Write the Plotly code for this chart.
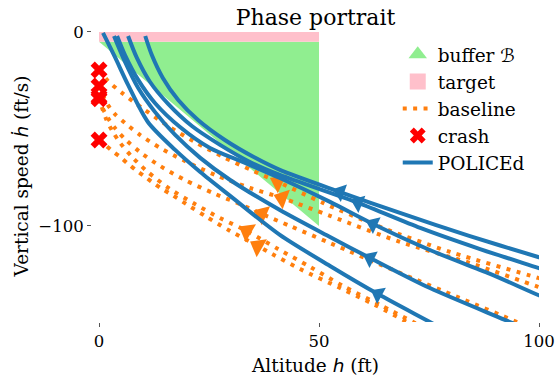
import plotly.graph_objects as go

# ---------------- data ----------------
# buffer polygon and target set (altitude h [ft], vertical speed v [ft/s])
buffer_h = [0, 50, 50]
buffer_v = [-5, -5, -100]
target_h = [0, 50, 50, 0]
target_v = [0, 0, -5, -5]

# POLICEd trajectories
polA_h = [0.9, 3.6, 6.6, 11.1, 17.3, 23.0, 29.8, 41.1, 52.5, 63.4, 75.2, 79.8]
polA_v = [-0.5, -12.9, -27.3, -46.4, -60.8, -72.2, -84.5, -104.6, -120.6, -135.1, -149.5, -155.2]
polB_h = [3.4, 5.7, 8.9, 12.7, 17.3, 23.0, 29.8, 41.1, 52.5, 61.6, 75.2, 93.4, 98.0]
polB_v = [-2.1, -14.4, -28.9, -41.2, -53.1, -64.9, -76.3, -91.8, -105.7, -116.5, -132.0, -149.5, -154.1]
polC_h = [4.1, 5.9, 8.9, 12.7, 18.4, 25.2, 33.2, 41.1, 52.5, 62.3, 75.2, 88.9, 99.8, 104.8]
polC_v = [-2.1, -11.9, -24.7, -36.6, -49.0, -59.8, -67.5, -75.3, -87.6, -99.0, -112.4, -124.7, -135.6, -140.2]
polD_h = [6.6, 8.6, 11.6, 15.7, 21.1, 27.5, 34.3, 41.1, 58.9, 73.0, 86.6, 99.8, 104.8]
polD_v = [-2.1, -13.4, -25.8, -37.1, -48.5, -58.2, -67.0, -73.7, -88.1, -101.0, -111.9, -121.6, -125.3]
polE_h = [10.5, 12.0, 14.5, 18.0, 22.5, 28.6, 35.5, 41.1, 54.8, 68.4, 84.3, 99.8, 104.8]
polE_v = [-2.1, -11.9, -23.7, -35.1, -45.4, -55.7, -64.9, -71.1, -82.5, -93.3, -105.2, -116.0, -119.1]

# baseline trajectories (first point = crash at h = 0)
base1_h = [0, 2.05, 5.2, 9.8, 15.7, 21.8, 28.2, 35.0, 40.7, 50.9, 63.9, 79.8, 99.8, 104.8]
base1_v = [-19.6, -25.3, -31.4, -39.2, -48.5, -56.7, -64.4, -71.6, -77.3, -88.1, -100.5, -113.4, -126.8, -130.4]
base2_h = [0, 0.9, 2.0, 3.6, 5.9, 9.3, 13.9, 19.5, 26.4, 34.3, 41.6, 52.5, 68.4, 84.3, 99.8, 104.8]
base2_v = [-27.8, -33.0, -37.6, -42.3, -46.9, -53.1, -59.8, -66.5, -73.7, -80.4, -85.6, -94.8, -108.2, -119.1, -131.4, -135.6]
base3_h = [0, 0.9, 2.0, 3.6, 5.9, 9.3, 13.9, 19.5, 26.4, 32.0, 37.0, 43.4, 52.5, 68.4, 82.0, 95.0, 100.2]
base3_v = [-34.5, -39.7, -44.3, -49.5, -55.2, -61.9, -69.1, -76.3, -83.5, -88.7, -93.8, -100.0, -108.8, -124.2, -137.1, -149.5, -154.6]
base4_h = [0, 0.7, 1.6, 3.0, 4.8, 7.5, 11.1, 16.1, 21.8, 27.5, 33.6, 40.7, 48.0, 55.5, 63.9, 71.4, 76.4]
base4_v = [-33.5, -39.2, -44.8, -51.0, -57.2, -64.4, -72.2, -80.9, -88.7, -95.9, -102.6, -111.9, -121.1, -131.0, -140.7, -149.5, -155.2]
base5_h = [0, 1.4, 2.95, 4.8, 6.6, 8.6, 10.5, 12.3, 14.3, 16.6, 20.5, 24.5, 29.8, 36.1, 39.3, 45.7, 54.8, 62.7, 70.0, 75.2]
base5_v = [-55.7, -58.2, -61.3, -64.4, -68.0, -71.6, -74.7, -77.8, -80.9, -84.0, -89.7, -95.4, -102.6, -110.3, -114.4, -122.2, -132.0, -140.7, -149.5, -155.7]

# index of the point on each trajectory carrying a direction arrow
pol_arrow_idx = [9, 9, 9, 8, 8]
base_arrow_idx = [8, 10, 10, 10, 13]

x_ticks = [0, 50, 100]
y_ticks = [0, -100]

# ---------------- styling ----------------
BLUE = "#1f77b4"
ORANGE = "#ff7f0e"
GREEN = "#90ee90"
PINK = "#ffc0cb"
FONT = "DejaVu Serif"
MATH = "<span style='font-family:DejaVu Sans'><i>{}</i></span>"
DOT = "4px,6.4px"

fig = go.Figure()

fig.add_trace(go.Scatter(x=buffer_h, y=buffer_v, fill="toself", fillcolor=GREEN,
                         mode="none", showlegend=False, hoverinfo="skip"))
fig.add_trace(go.Scatter(x=target_h, y=target_v, fill="toself", fillcolor=PINK,
                         mode="none", showlegend=False, hoverinfo="skip"))

policed = [(polA_h, polA_v), (polB_h, polB_v), (polC_h, polC_v), (polD_h, polD_v), (polE_h, polE_v)]
baseline = [(base1_h, base1_v), (base2_h, base2_v), (base3_h, base3_v), (base4_h, base4_v), (base5_h, base5_v)]


def arrow_trace(h, v, k, color, size):
    # arrow at point k, oriented from point k+1 towards point k (direction of motion)
    ph = h[k] + 0.15 * (h[k + 1] - h[k])
    pv = v[k] + 0.15 * (v[k + 1] - v[k])
    return go.Scatter(x=[ph, h[k]], y=[pv, v[k]], mode="markers", showlegend=False,
                      hoverinfo="skip", opacity=1,
                      marker=dict(symbol="triangle-up", size=[0, size], color=color, opacity=1,
                                  angleref="previous", angle=0, line=dict(width=0)))


for h, v in baseline:
    fig.add_trace(go.Scatter(x=h, y=v, mode="lines", showlegend=False, hoverinfo="skip",
                             line=dict(color=ORANGE, width=4, dash=DOT, shape="spline", smoothing=0.8)))
for (h, v), k in zip(baseline, base_arrow_idx):
    fig.add_trace(arrow_trace(h, v, k, ORANGE, 18))

crash_h = [b[0][0] for b in baseline]
crash_v = [b[1][0] for b in baseline]
fig.add_trace(go.Scatter(x=crash_h, y=crash_v, mode="markers", showlegend=False,
                         cliponaxis=False, hoverinfo="skip",
                         marker=dict(symbol="x", size=15, color="red", line=dict(width=0))))

for h, v in policed:
    fig.add_trace(go.Scatter(x=h, y=v, mode="lines", showlegend=False, hoverinfo="skip",
                             line=dict(color=BLUE, width=4, shape="spline", smoothing=0.8)))
for (h, v), k in zip(policed, pol_arrow_idx):
    fig.add_trace(arrow_trace(h, v, k, BLUE, 16))

# legend entries
fig.add_trace(go.Scatter(x=[None], y=[None], mode="markers", name="buffer " + MATH.format("ℬ"),
                         marker=dict(symbol="triangle-up", size=16, color=GREEN)))
fig.add_trace(go.Scatter(x=[None], y=[None], mode="markers", name="target",
                         marker=dict(symbol="square", size=16, color=PINK)))
fig.add_trace(go.Scatter(x=[None], y=[None], mode="lines", name="baseline",
                         line=dict(color=ORANGE, width=4, dash=DOT)))
fig.add_trace(go.Scatter(x=[None], y=[None], mode="markers", name="crash",
                         marker=dict(symbol="x", size=14, color="red", line=dict(width=0))))
fig.add_trace(go.Scatter(x=[None], y=[None], mode="lines", name="POLICEd",
                         line=dict(color=BLUE, width=4)))

axis_common = dict(showgrid=False, zeroline=False, showline=False, ticks="outside",
                   automargin=False, ticklen=4, tickwidth=1, tickcolor="#555",
                   tickfont=dict(size=16.5, color="black", family=FONT))

fig.update_layout(
    width=556, height=383,
    margin=dict(l=92, r=17, t=30, b=61, autoexpand=False),
    paper_bgcolor="white", plot_bgcolor="white",
    font=dict(family=FONT, color="black"),
    title=dict(text="Phase portrait", x=0.5, xref="paper", xanchor="center",
               y=1 - 17 / 383, yref="container", yanchor="middle",
               font=dict(size=22, family=FONT, color="black")),
    xaxis=dict(range=[-1.6, 100], tickvals=x_ticks,
               title=dict(text="Altitude " + MATH.format("h") + " (ft)",
                          font=dict(size=18.5, family=FONT), standoff=9),
               **axis_common),
    yaxis=dict(range=[-149.5, 1.0], tickvals=y_ticks,
               title=dict(text="Vertical speed " + MATH.format("ḣ") + " (ft/s)",
                          font=dict(size=18.5, family=FONT), standoff=4),
               **axis_common),
    legend=dict(x=0.684, y=0.98, xanchor="left", yanchor="top", bgcolor="rgba(0,0,0,0)",
                font=dict(size=18.5, family=FONT), tracegroupgap=0, itemwidth=30),
    showlegend=True,
)

fig.write_html("out.html", config={"displayModeBar": False},
               post_script="document.body.style.margin='0px';")
